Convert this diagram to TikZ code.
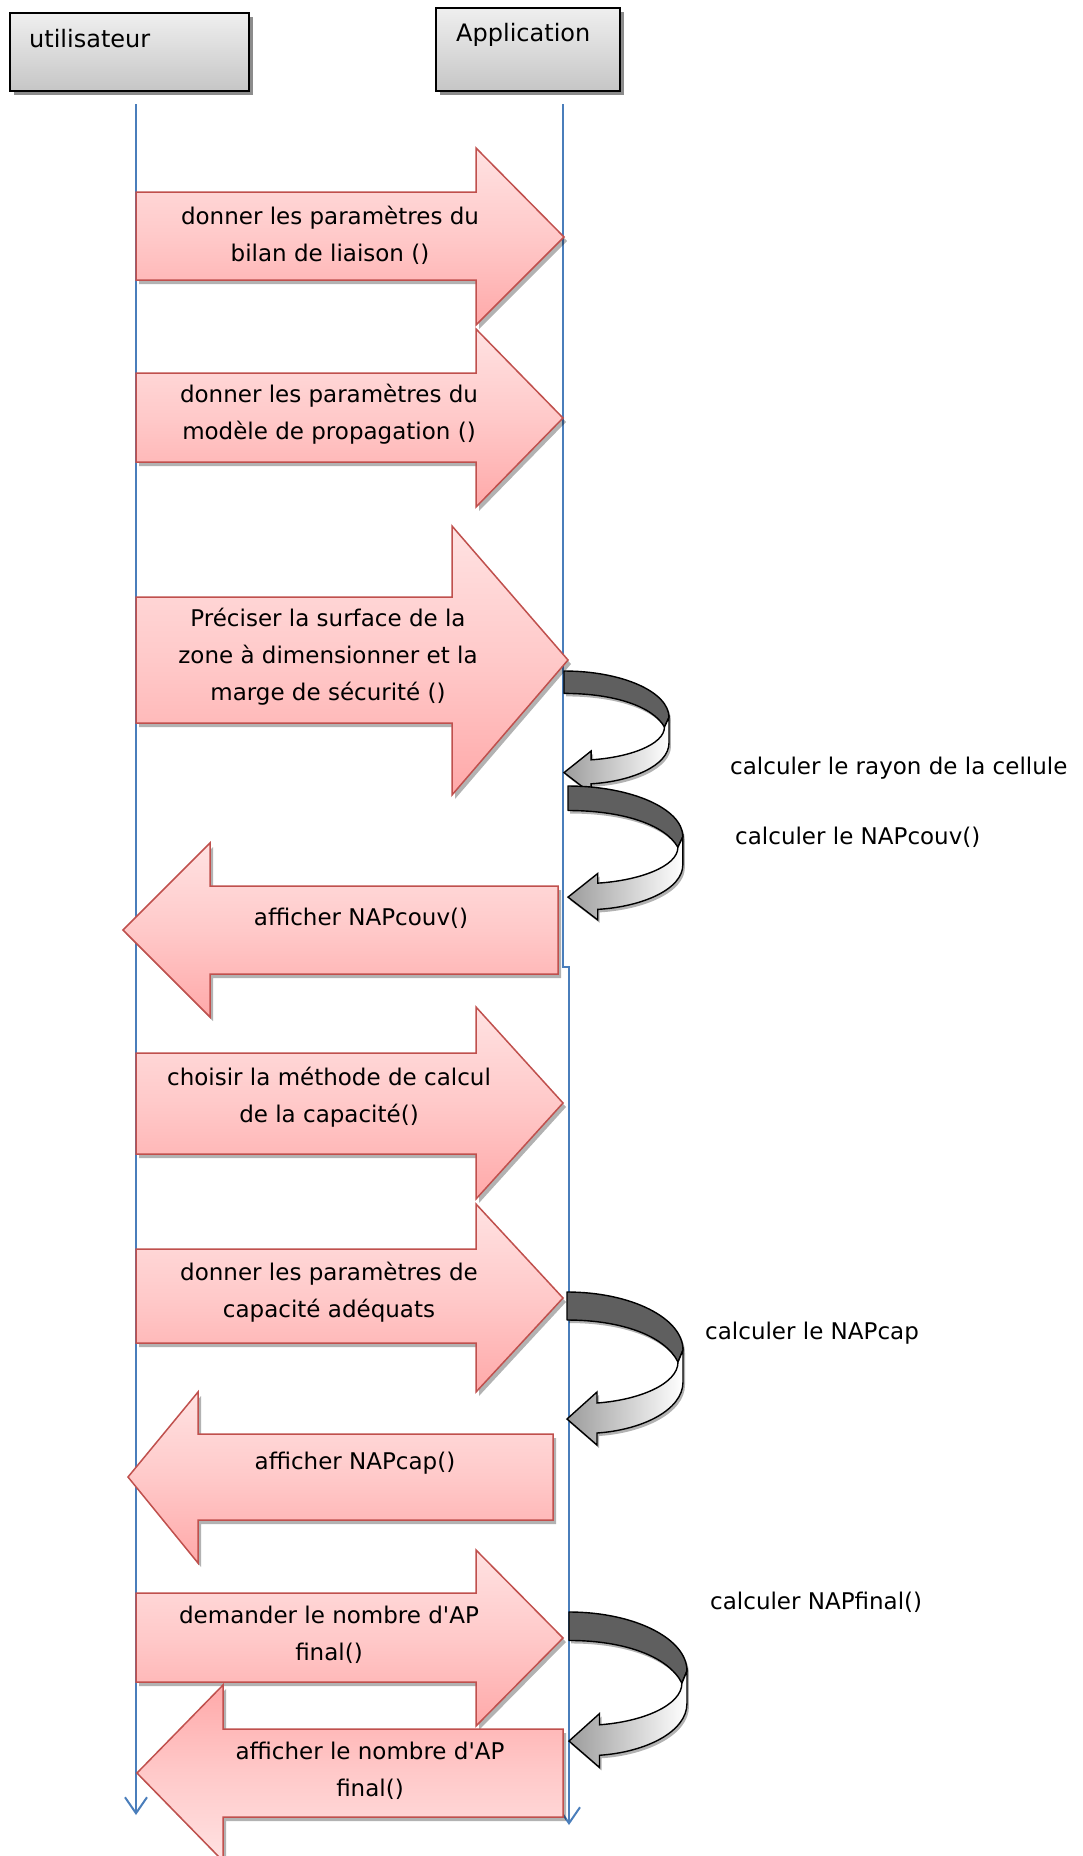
\documentclass[tikz,border=0pt]{standalone}
\usepackage{fontspec}
\setmainfont{DejaVu Sans}[Ligatures=TeXOff]
\usetikzlibrary{arrows.meta,shadows}
\definecolor{lifeblue}{HTML}{4A7EBB}
\definecolor{arrowred}{HTML}{C0504D}
\definecolor{pinklight}{HTML}{FFE2E2}
\definecolor{pinkmid}{HTML}{FFC9C9}
\definecolor{pinkdeep}{HTML}{FFA9A9}
\definecolor{ribbondark}{HTML}{5F5F5F}
\definecolor{ribbongrey}{HTML}{9C9C9C}
\definecolor{boxtop}{HTML}{EFEFEF}
\definecolor{boxbottom}{HTML}{C6C6C6}

% curved self-call ribbon: origin, x scale, y scale
\newcommand{\selfcall}[4]{%
  \begin{scope}[shift={(#1,#2)}, xscale=#3, yscale=#4]
    \path[ribbonback] (0,0) .. controls (64,0) and (116,26) .. (116,58)
      -- (111,70) .. controls (98,44) and (55,28) .. (0,28) -- cycle;
    \path[ribbonfront] (116,58) -- (116,90) .. controls (116,118) and (75,138) .. (30,141)
      -- (30,153) -- (0,127) -- (30,100) -- (30,111)
      .. controls (72,108) and (111,92) .. (111,70) -- cycle;
  \end{scope}}

\begin{document}
\begin{tikzpicture}[x=1pt,y=-1pt,
  msgtext/.style={font=\fontsize{23}{37}\selectfont, align=center, inner sep=0pt},
  steptext/.style={font=\fontsize{23}{37}\selectfont, anchor=west, inner sep=0pt},
  actortext/.style={font=\fontsize{24}{30}\selectfont, anchor=west, inner sep=0pt},
  actorbox/.style={draw=black, line width=1.5pt, top color=boxtop, bottom color=boxbottom,
    anchor=north west, inner sep=0pt,
    drop shadow={shadow xshift=4pt, shadow yshift=-4pt, fill=black, opacity=0.45}},
  lifeline/.style={draw=lifeblue, line width=2pt, -{Straight Barb[length=16pt,width=22pt]}},
  blockarrow/.style={draw=arrowred, line width=1.5pt, line join=miter,
    top color=pinklight, bottom color=pinkdeep, middle color=pinkmid,
    drop shadow={shadow xshift=3pt, shadow yshift=-4pt, fill=black, opacity=0.3}},
  blockarrowflip/.style={draw=arrowred, line width=1.5pt, line join=miter,
    top color=pinkdeep, bottom color=pinklight, middle color=pinkmid,
    drop shadow={shadow xshift=3pt, shadow yshift=-4pt, fill=black, opacity=0.3}},
  ribbonback/.style={draw=black, line width=1.4pt, line join=round, fill=ribbondark,
    drop shadow={shadow xshift=2pt, shadow yshift=-3pt, fill=black, opacity=0.3}},
  ribbonfront/.style={draw=black, line width=1.4pt, line join=miter,
    left color=ribbongrey, right color=white,
    drop shadow={shadow xshift=2pt, shadow yshift=-3pt, fill=black, opacity=0.3}}
]
\fill[white] (0,0) rectangle (1083,1856);
\useasboundingbox (0,0) rectangle (1083,1856);

% actors
\node[actorbox, minimum width=239pt, minimum height=78pt] (user) at (9,12) {};
\node[actorbox, minimum width=184pt, minimum height=83pt] (app) at (435,7) {};
\node[actortext] (userlabel) at (29,39) {utilisateur};
\node[actortext] (applabel) at (456,35) {Application};

% lifelines
\coordinate (uTop) at (136,104);
\coordinate (uEnd) at (136,1815);
\coordinate (aTop) at (563,104);
\coordinate (aStepA) at (563,967);
\coordinate (aStepB) at (569,967);
\coordinate (aEnd) at (569,1825);
\draw[lifeline] (uTop) -- (uEnd);
\draw[lifeline] (aTop) -- (aStepA) -- (aStepB) -- (aEnd);

% messages
\path[blockarrow] (136,192) -- (476,192) -- (476,148) -- (564,237) -- (476,325) -- (476,280) -- (136,280) -- cycle;
\node[msgtext] (m1) at (330,235) {donner les paramètres du\\bilan de liaison ()};

\path[blockarrow] (136,373) -- (476,373) -- (476,329) -- (563,418) -- (476,507) -- (476,462) -- (136,462) -- cycle;
\node[msgtext] (m2) at (329,414) {donner les paramètres du\\modèle de propagation ()};

\path[blockarrow] (136,597) -- (452,597) -- (452,526) -- (568,660) -- (452,795) -- (452,723) -- (136,723) -- cycle;
\node[msgtext] (m3) at (328,657) {Préciser la surface de la\\zone à dimensionner et la\\marge de sécurité ()};

\selfcall{564}{671}{0.905}{0.80}
\selfcall{568}{786}{0.99}{0.875}
\node[steptext] (s1) at (730,768) {calculer le rayon de la cellule};
\node[steptext] (s2) at (735,837) {calculer le NAPcouv()};

\path[blockarrow] (558,886) -- (210,886) -- (210,843) -- (123,930) -- (210,1017) -- (210,974) -- (558,974) -- cycle;
\node[msgtext] (m4) at (361,918) {afficher NAPcouv()};

\path[blockarrow] (136,1053) -- (476,1053) -- (476,1007) -- (563,1103) -- (476,1199) -- (476,1154) -- (136,1154) -- cycle;
\node[msgtext] (m5) at (329,1097) {choisir la méthode de calcul\\de la capacité()};

\path[blockarrow] (136,1249) -- (476,1249) -- (476,1204) -- (563,1298) -- (476,1392) -- (476,1343) -- (136,1343) -- cycle;
\node[msgtext] (m6) at (329,1292) {donner les paramètres de\\capacité adéquats};

\selfcall{567}{1292}{1}{1}
\node[steptext] (s3) at (705,1333) {calculer le NAPcap};

\path[blockarrow] (553,1434) -- (198,1434) -- (198,1392) -- (128,1477) -- (198,1563) -- (198,1520) -- (553,1520) -- cycle;
\node[msgtext] (m7) at (355,1463) {afficher NAPcap()};

\path[blockarrow] (136,1593) -- (476,1593) -- (476,1550) -- (563,1638) -- (476,1726) -- (476,1682) -- (136,1682) -- cycle;
\node[msgtext] (m8) at (329,1635) {demander le nombre d'AP\\final()};

\selfcall{569}{1612}{1.017}{1.016}
\node[steptext] (s4) at (710,1602) {calculer NAPfinal()};

\path[blockarrowflip] (563,1729) -- (223,1729) -- (223,1685) -- (137,1773) -- (223,1861) -- (223,1817) -- (563,1817) -- cycle;
\node[msgtext] (m9) at (370,1771) {afficher le nombre d'AP\\final()};
\end{tikzpicture}
\end{document}
